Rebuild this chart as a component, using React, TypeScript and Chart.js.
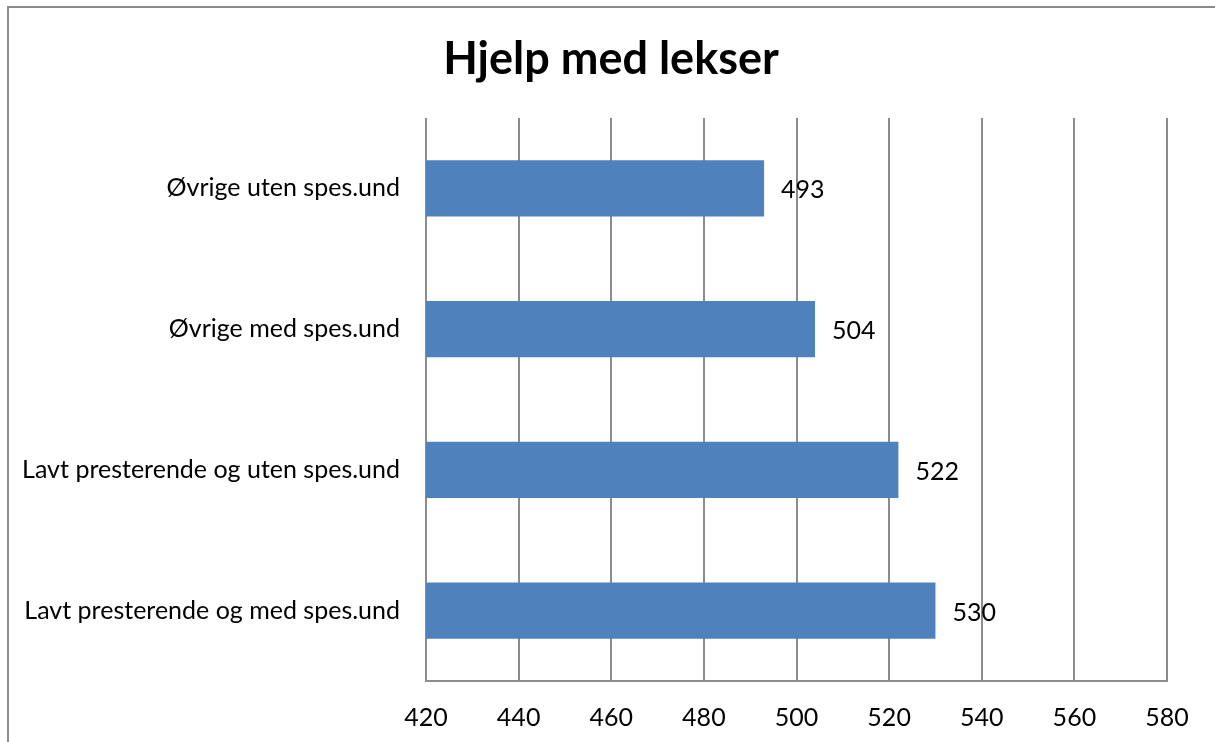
import React, { useEffect, useRef } from "react";
import { Chart, registerables } from "chart.js";

Chart.register(...registerables);

const title = "Hjelp med lekser";
const categories = [
  "Øvrige uten spes.und",
  "Øvrige med spes.und",
  "Lavt presterende og uten spes.und",
  "Lavt presterende og med spes.und",
];
const values = [493, 504, 522, 530];
const xMin = 420;
const xMax = 580;
const xStep = 20;

const FONT = "Lato, 'Open Sans', sans-serif";

const valueLabels = {
  id: "valueLabels",
  afterDatasetsDraw(chart: any) {
    const { ctx } = chart;
    const meta = chart.getDatasetMeta(0);
    ctx.save();
    ctx.font = `25px ${FONT}`;
    ctx.fillStyle = "#000000";
    ctx.textAlign = "left";
    ctx.textBaseline = "middle";
    meta.data.forEach((bar: any, i: number) => {
      ctx.fillText(String(values[i]), bar.x + 17, bar.y + 2);
    });
    ctx.restore();
  },
};

// Centre the title over the whole framed chart rather than the padded layout box
const titleCentre = {
  id: "titleCentre",
  afterLayout(chart: any) {
    if (chart.titleBlock) {
      chart.titleBlock.left = 7;
      chart.titleBlock.right = 1215;
    }
  },
};

export default function App() {
  const ref = useRef<HTMLCanvasElement | null>(null);
  useEffect(() => {
    if (!ref.current) return;
    const chart = new Chart(ref.current, {
      type: "bar",
      data: {
        labels: categories,
        datasets: [
          {
            data: values,
            backgroundColor: "#4F81BD",
            borderWidth: 0,
            barPercentage: 0.4,
            categoryPercentage: 1,
          },
        ],
      },
      options: {
        indexAxis: "y",
        animation: false,
        responsive: false,
        maintainAspectRatio: false,
        layout: { padding: { left: 0, right: 48, top: 0, bottom: 0 } },
        plugins: {
          legend: { display: false },
          tooltip: { enabled: false },
          title: {
            display: true,
            text: title,
            color: "#000000",
            font: { family: FONT, size: 45, weight: "bold", lineHeight: 1.2 },
            padding: { top: 32, bottom: 32 },
          },
        },
        scales: {
          x: {
            min: xMin,
            max: xMax,
            afterFit(scale: any) {
              scale.height = 61;
            },
            ticks: {
              stepSize: xStep,
              color: "#000000",
              padding: 22,
              maxRotation: 0,
              font: { family: FONT, size: 25 },
            },
            grid: { color: "#8c8c8c", lineWidth: 2, drawTicks: false },
            border: { color: "#8c8c8c", width: 2 },
          },
          y: {
            afterFit(scale: any) {
              scale.width = 426;
            },
            ticks: {
              color: "#000000",
              padding: 26,
              font: { family: FONT, size: 25 },
            },
            grid: { display: false, drawTicks: false },
            border: { display: false },
          },
        },
      },
      plugins: [valueLabels, titleCentre],
    });
    return () => chart.destroy();
  }, []);

  return (
    <div
      style={{
        position: "fixed",
        left: 0,
        top: 0,
        width: 1215,
        height: 742,
        background: "#ffffff",
        overflow: "hidden",
      }}
    >
      <div
        style={{
          position: "absolute",
          left: 7,
          top: 6,
          width: 1220,
          height: 760,
          borderLeft: "2px solid #8a8a8a",
          borderTop: "2px solid #8a8a8a",
          boxSizing: "border-box",
        }}
      />
      <canvas
        ref={ref}
        width={1215}
        height={742}
        style={{ position: "absolute", left: 0, top: 0 }}
      />
    </div>
  );
}
